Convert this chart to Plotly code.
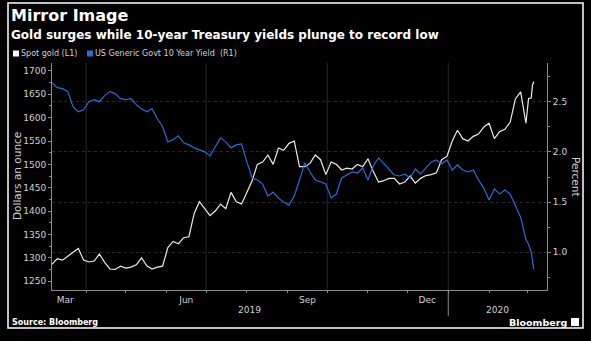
import plotly.graph_objects as go

dates = ["2019-03-06","2019-03-10","2019-03-14","2019-03-18","2019-03-22","2019-03-26","2019-03-30",
"2019-04-03","2019-04-07","2019-04-11","2019-04-15","2019-04-19","2019-04-23","2019-04-27",
"2019-05-01","2019-05-05","2019-05-09","2019-05-13","2019-05-17","2019-05-21","2019-05-25","2019-05-29",
"2019-06-02","2019-06-06","2019-06-10","2019-06-14","2019-06-18","2019-06-22","2019-06-26","2019-06-30",
"2019-07-04","2019-07-08","2019-07-12","2019-07-16","2019-07-20","2019-07-24","2019-07-28",
"2019-08-01","2019-08-05","2019-08-09","2019-08-13","2019-08-17","2019-08-21","2019-08-25","2019-08-29",
"2019-09-02","2019-09-06","2019-09-10","2019-09-14","2019-09-18","2019-09-22","2019-09-26","2019-09-30",
"2019-10-04","2019-10-08","2019-10-12","2019-10-16","2019-10-20","2019-10-24","2019-10-28",
"2019-11-01","2019-11-05","2019-11-09","2019-11-13","2019-11-17","2019-11-21","2019-11-25","2019-11-29",
"2019-12-03","2019-12-07","2019-12-11","2019-12-15","2019-12-19","2019-12-23","2019-12-27","2019-12-31",
"2020-01-04","2020-01-08","2020-01-12","2020-01-16","2020-01-20","2020-01-24","2020-01-28",
"2020-02-01","2020-02-05","2020-02-09","2020-02-13","2020-02-17","2020-02-21","2020-02-25","2020-02-29",
"2020-03-02","2020-03-04","2020-03-05","2020-03-06"]

gold = [1286,1298,1295,1303,1312,1320,1295,
1291,1293,1308,1290,1276,1275,1282,
1278,1280,1285,1300,1283,1276,1280,1282,
1322,1335,1330,1343,1345,1395,1420,1405,
1390,1400,1415,1405,1440,1420,1415,
1440,1465,1500,1505,1520,1500,1535,1530,
1545,1550,1495,1495,1502,1520,1510,1478,
1505,1500,1488,1492,1490,1500,1495,
1512,1485,1462,1465,1470,1470,1458,1462,
1475,1460,1470,1476,1478,1482,1510,1517,
1550,1573,1555,1550,1560,1565,1580,
1588,1555,1570,1575,1590,1640,1655,1588,
1641,1642,1670,1677]

yld = [2.69,2.64,2.63,2.60,2.45,2.40,2.42,
2.50,2.52,2.50,2.56,2.60,2.58,2.53,
2.52,2.53,2.47,2.43,2.40,2.43,2.33,2.25,
2.10,2.12,2.16,2.09,2.07,2.04,2.02,2.00,
1.96,2.05,2.14,2.10,2.04,2.07,2.08,
1.90,1.74,1.72,1.68,1.56,1.60,1.54,1.50,
1.47,1.56,1.72,1.89,1.80,1.72,1.70,1.68,
1.54,1.58,1.74,1.77,1.80,1.79,1.84,
1.72,1.86,1.94,1.88,1.82,1.77,1.76,1.78,
1.74,1.83,1.78,1.84,1.90,1.92,1.88,1.92,
1.82,1.87,1.82,1.80,1.82,1.72,1.64,
1.52,1.63,1.58,1.62,1.58,1.47,1.35,1.13,
1.08,1.00,0.92,0.83]

month_tick_dates = ["2019-03-16","2019-06-16","2019-09-16","2019-12-16"]
month_tick_text = ["Mar","Jun","Sep","Dec"]
quarter_lines = ["2019-04-01","2019-07-01","2019-10-01","2020-01-01"]
left_ticks = [1250,1300,1350,1400,1450,1500,1550,1600,1650,1700]
right_ticks = [1.0,1.5,2.0,2.5]

FONT = "DejaVu Sans"
TICKC = "#d2d2d2"
AXC = "#8a8a8a"
GRIDC = "#292929"

fig = go.Figure()
fig.add_trace(go.Scatter(x=dates, y=gold, mode="lines", name="Spot gold (L1)",
                         line=dict(color="#ececec", width=1.2), yaxis="y"))
fig.add_trace(go.Scatter(x=dates, y=yld, mode="lines", name="US Generic Govt 10 Year Yield  (R1)",
                         line=dict(color="#2c6bd3", width=1.2), yaxis="y2"))

fig.update_layout(
    width=591, height=341,
    paper_bgcolor="black", plot_bgcolor="black",
    margin=dict(l=52, r=44, t=63, b=51),
    showlegend=False,
    font=dict(family=FONT, color=TICKC, size=9),
    xaxis=dict(type="date", range=["2019-03-06", "2020-03-16"],
               tickvals=month_tick_dates, ticktext=month_tick_text,
               ticks="", ticklabelstandoff=1, showgrid=False, zeroline=False,
               showline=True, linecolor=AXC, linewidth=1,
               tickfont=dict(size=9, color=TICKC),
               minor=dict(dtick="M1", tick0="2019-01-01", ticks="outside", ticklen=2, tickcolor=AXC, showgrid=False)),
    yaxis=dict(range=[1231, 1717], tickvals=left_ticks, ticks="outside", ticklen=3, tickcolor=AXC,
               showline=True, linecolor=AXC, showgrid=False, zeroline=False,
               tickfont=dict(size=9, color=TICKC),
               minor=dict(dtick=25, ticks="outside", ticklen=2, tickcolor=AXC, showgrid=False)),
    yaxis2=dict(range=[0.625, 2.885], overlaying="y", side="right", tickvals=right_ticks,
                ticktext=["1.0","1.5","2.0","2.5"], ticks="outside", ticklen=3, tickcolor=AXC,
                showline=True, linecolor=AXC, showgrid=True, gridcolor=GRIDC, griddash="dot",
                zeroline=False, tickfont=dict(size=9, color=TICKC),
                minor=dict(dtick=0.25, tick0=0, ticks="outside", ticklen=2, tickcolor=AXC, showgrid=False)),
)

W, H = 495.0, 227.0
def px(x): return (x - 52) / W
def py(y): return (290 - y) / H

shapes = []
for d in quarter_lines:
    shapes.append(dict(type="line", xref="x", yref="paper", x0=d, x1=d, y0=0, y1=1,
                       line=dict(color=GRIDC, width=1), layer="below"))
shapes.append(dict(type="line", xref="x", yref="paper", x0="2020-01-01", x1="2020-01-01",
                   y0=0, y1=py(316), line=dict(color=AXC, width=1)))
shapes.append(dict(type="rect", xref="paper", yref="paper", x0=px(8), x1=px(583), y0=py(328), y1=py(3),
                   line=dict(color="white", width=1.5)))
# legend squares
shapes.append(dict(type="rect", xref="paper", yref="paper", x0=px(13), x1=px(19), y0=py(56.5), y1=py(50.5),
                   fillcolor="white", line=dict(width=0)))
shapes.append(dict(type="rect", xref="paper", yref="paper", x0=px(87), x1=px(93), y0=py(56.5), y1=py(50.5),
                   fillcolor="#2c6bd3", line=dict(width=0)))
# logo icon
shapes.append(dict(type="rect", xref="paper", yref="paper", x0=px(571), x1=px(579), y0=py(326), y1=py(318),
                   fillcolor="white", line=dict(width=0)))
fig.update_layout(shapes=shapes)

ann = [
    dict(text="<b>Mirror Image</b>", x=px(9), y=py(16), xanchor="left", yanchor="middle",
         font=dict(size=16, color="white", family=FONT)),
    dict(text="<b>Gold surges while 10-year Treasury yields plunge to record low</b>", x=px(9), y=py(35),
         xanchor="left", yanchor="middle", font=dict(size=12, color="white", family=FONT)),
    dict(text="Spot gold (L1)", x=px(19), y=py(53.5), xanchor="left", yanchor="middle",
         font=dict(size=8, color=TICKC, family=FONT)),
    dict(text="US Generic Govt 10 Year Yield  (R1)", x=px(93), y=py(53.5), xanchor="left", yanchor="middle",
         font=dict(size=8, color=TICKC, family=FONT)),
    dict(text="Dollars an ounce", x=px(17), y=py(176), textangle=-90, xanchor="center", yanchor="middle",
         font=dict(size=10.5, color=TICKC, family=FONT)),
    dict(text="Percent", x=px(576), y=py(177), textangle=90, xanchor="center", yanchor="middle",
         font=dict(size=10.5, color=TICKC, family=FONT)),
    dict(text="2019", x=px(249.5), y=py(310), xanchor="center", yanchor="middle",
         font=dict(size=9, color=TICKC, family=FONT)),
    dict(text="2020", x=px(497), y=py(310), xanchor="center", yanchor="middle",
         font=dict(size=9, color=TICKC, family=FONT)),
    dict(text="<b>Source: Bloomberg</b>", x=px(10), y=py(322), xanchor="left", yanchor="middle",
         font=dict(size=8, color="white", family=FONT)),
    dict(text="<b>Bloomberg</b>", x=px(569), y=py(322), xanchor="right", yanchor="middle",
         font=dict(size=9.5, color="white", family=FONT)),
]
for a in ann:
    a.update(xref="paper", yref="paper", showarrow=False)
fig.update_layout(annotations=ann)

fig.write_html("out.html")
